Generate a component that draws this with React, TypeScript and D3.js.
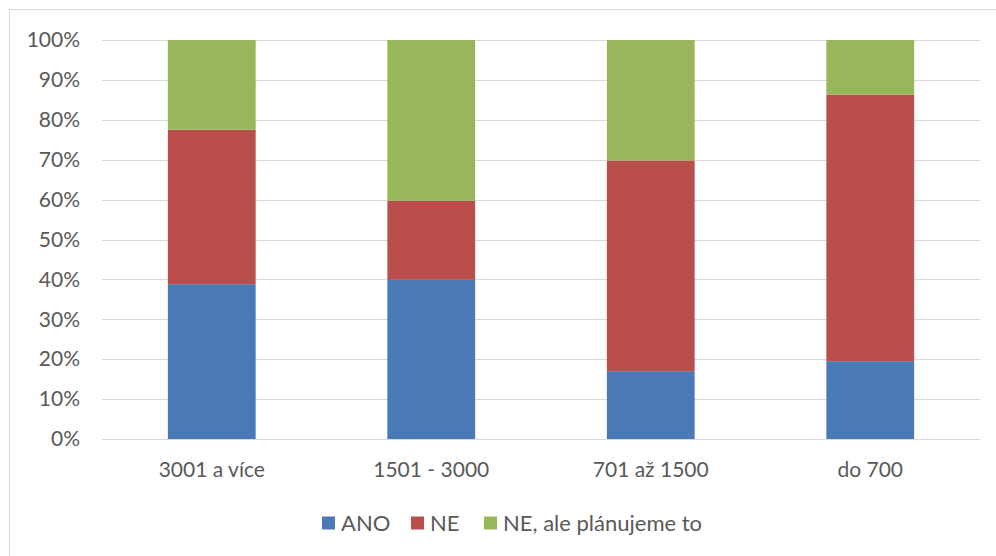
import React, { useRef, useEffect } from 'react';
import { select, scaleBand, scaleLinear, stack, axisLeft, format } from 'd3';

const width = 996;
const height = 556;
const margin = { top: 40, right: 16, bottom: 117, left: 102 };

const categories = ['3001 a více', '1501 - 3000', '701 až 1500', 'do 700'];
const seriesNames = ['ANO', 'NE', 'NE, ale plánujeme to'];
const ano = [38.8, 39.9, 17.0, 19.5];
const ne = [38.7, 19.8, 52.8, 66.8];
const nePlan = [22.5, 40.3, 30.2, 13.7];
const yTicks = [0, 0.1, 0.2, 0.3, 0.4, 0.5, 0.6, 0.7, 0.8, 0.9, 1];

const colors = ['#4a7ab5', '#b94e4a', '#98b65a'];
const font = 'Lato, "Open Sans", sans-serif';
const fontSize = '21px';

export default function App() {
    const svgRef = useRef<SVGSVGElement>(null);

    useEffect(() => {
        const svg = select(svgRef.current);
        svg.selectAll('*').remove();

        const rows = categories.map((c, i) => {
            const total = ano[i] + ne[i] + nePlan[i];
            return {
                cat: c,
                ANO: ano[i] / total,
                NE: ne[i] / total,
                'NE, ale plánujeme to': nePlan[i] / total,
            };
        });

        const x = scaleBand()
            .domain(categories)
            .range([margin.left, width - margin.right])
            .paddingInner(0.6)
            .paddingOuter(0.3);

        const y = scaleLinear()
            .domain([0, 1])
            .range([height - margin.bottom, margin.top]);

        // outer frame
        svg.append('rect')
            .attr('x', 9.5)
            .attr('y', 9.5)
            .attr('width', width)
            .attr('height', height)
            .attr('fill', '#fff')
            .attr('stroke', '#d9d9d9');

        // gridlines
        svg.append('g')
            .selectAll('line')
            .data(yTicks)
            .enter()
            .append('line')
            .attr('x1', margin.left)
            .attr('x2', width - margin.right)
            .attr('y1', d => Math.round(y(d)) + 0.5)
            .attr('y2', d => Math.round(y(d)) + 0.5)
            .attr('stroke', '#d9d9d9')
            .attr('stroke-width', 1.2);

        const yAxis = svg.append('g')
            .attr('transform', `translate(${margin.left},0)`)
            .call(axisLeft(y).tickValues(yTicks).tickFormat(format('.0%')).tickSize(0).tickPadding(22));
        yAxis.select('.domain').remove();
        yAxis.selectAll('text')
            .attr('fill', '#595959')
            .style('font-family', font)
            .style('font-size', fontSize);

        const stacked = stack<any>().keys(seriesNames)(rows);

        svg.append('g')
            .selectAll('g')
            .data(stacked)
            .enter()
            .append('g')
            .attr('fill', (_d, i) => colors[i])
            .selectAll('rect')
            .data(d => d)
            .enter()
            .append('rect')
            .attr('x', d => x(d.data.cat) as number)
            .attr('width', x.bandwidth())
            .attr('y', d => y(d[1]))
            .attr('height', d => y(d[0]) - y(d[1]));

        // category labels
        svg.append('g')
            .selectAll('text')
            .data(categories)
            .enter()
            .append('text')
            .attr('x', d => (x(d) as number) + x.bandwidth() / 2)
            .attr('y', height - margin.bottom + 31)
            .attr('dy', '0.35em')
            .attr('text-anchor', 'middle')
            .attr('fill', '#595959')
            .style('font-family', font)
            .style('font-size', fontSize)
            .text(d => d);

        // legend
        const legendX = [322, 411, 484];
        const legend = svg.append('g')
            .selectAll('g')
            .data(seriesNames)
            .enter()
            .append('g')
            .attr('transform', (_d, i) => `translate(${legendX[i]},523)`);
        legend.append('rect')
            .attr('x', 0)
            .attr('y', -6.5)
            .attr('width', 13)
            .attr('height', 13)
            .attr('fill', (_d, i) => colors[i]);
        legend.append('text')
            .attr('x', 19)
            .attr('dy', '0.35em')
            .attr('fill', '#595959')
            .style('font-family', font)
            .style('font-size', '22px')
            .text(d => d);
    }, []);

    return (
        <svg
            ref={svgRef}
            width={width}
            height={height}
            style={{ position: 'absolute', left: 0, top: 0 }}
        />
    );
}
